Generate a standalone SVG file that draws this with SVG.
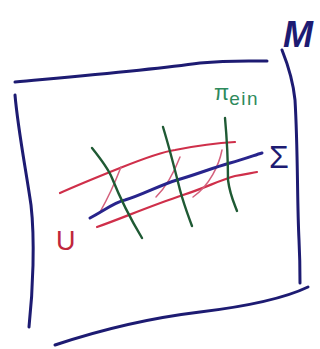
<svg xmlns="http://www.w3.org/2000/svg" width="320" height="349" viewBox="0 0 320 349">
<style>
.s{fill:none;stroke-linecap:round;stroke-linejoin:round}
.frame{stroke:#1d1b72;stroke-width:3}
.red{stroke:#cf2f4a;stroke-width:2.2}
.pink{stroke:#d4607c;stroke-width:1.5}
.blue{stroke:#28248c;stroke-width:3}
.green{stroke:#1f5a34;stroke-width:2.4}
.lbl{font-family:"Liberation Sans",Arial,sans-serif}
</style>
<rect width="320" height="349" fill="#ffffff"/>
<g id="frame">
<path class="s frame" d="M15,82 C80,76 150,70 200,63 C230,60 250,61 267,61"/>
<path class="s frame" d="M15,95 C18,130 26,170 31,205 C35,240 33,290 29,327"/>
<path class="s frame" d="M282,50 C288,65 293,80 295,100 C298,150 297,200 299,240 C300,260 300,272 300,283"/>
<path class="s frame" d="M55,345 C100,330 150,318 200,312 C250,306 285,298 308,287"/>
<text class="lbl" x="283" y="47" font-size="36" font-style="italic" font-weight="bold" fill="#1d1b72">M</text>
</g>
<g id="neighborhood">
<path class="s red" d="M60,193 C80,184 100,176 120,168 C140,160 160,152 175,150 C195,146 215,143 235,142"/>
<path class="s red" d="M97,227 C120,219 150,206 183,195 C205,188 220,180 235,176 C245,174 252,173 257,172"/>
<path class="s pink" d="M121,167 C116,180 108,198 100,212"/>
<path class="s pink" d="M180,157 C175,170 168,185 156,197"/>
<path class="s pink" d="M222,150 C219,165 210,185 193,197"/>
<text class="lbl" x="56" y="250" font-size="27" fill="#c0263c">U</text>
</g>
<g id="sigma">
<path class="s blue" d="M90,218 C105,210 115,202 125,200 C140,196 160,185 177,180 C195,175 212,168 230,163 C245,159 255,155 262,153"/>
<text class="lbl" x="269" y="168" font-size="32" fill="#1d1b72">Σ</text>
</g>
<g id="fibers">
<path class="s green" d="M92,148 C100,158 108,168 112,178 C120,198 130,218 142,238"/>
<path class="s green" d="M163,127 C170,150 175,170 180,190 C184,205 188,215 192,226"/>
<path class="s green" d="M225,118 C227,140 228,160 228,180 C230,195 234,203 237,211"/>
<text class="lbl" x="214" y="100" font-size="22" fill="#2e8a5c">π<tspan font-size="19" dy="5" letter-spacing="1.5">ein</tspan></text>
</g>
</svg>
